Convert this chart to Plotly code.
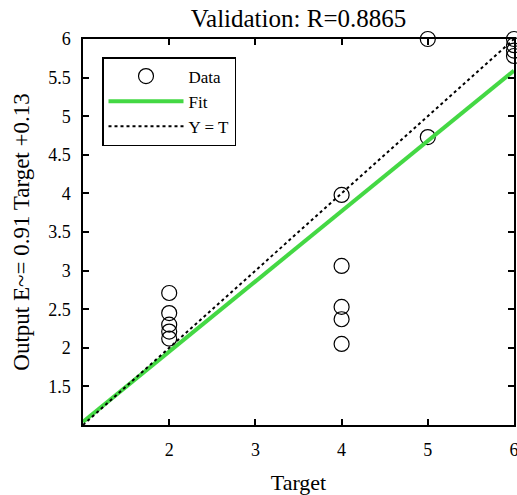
import plotly.graph_objects as go

# Data
target = [2, 2, 2, 2, 2, 4, 4, 4, 4, 4, 5, 5, 6, 6, 6, 6]
output = [2.71, 2.45, 2.30, 2.21, 2.12, 3.98, 3.06, 2.53, 2.37, 2.05, 6.0, 4.73, 6.0, 5.92, 5.85, 5.78]
fit_slope = 0.91
fit_intercept = 0.13
line_x = [1, 6]
fit_y = [fit_slope * v + fit_intercept for v in line_x]
yt_y = list(line_x)
x_ticks = [2, 3, 4, 5, 6]
y_ticks = [1.5, 2, 2.5, 3, 3.5, 4, 4.5, 5, 5.5, 6]

FONT = "Liberation Serif"

fig = go.Figure()
fig.add_trace(go.Scatter(
    x=target, y=output, mode="markers", name="Data",
    marker=dict(symbol="circle-open", size=15, color="black", line=dict(width=1.2, color="black")),
    cliponaxis=False,
))
fig.add_trace(go.Scatter(
    x=line_x, y=fit_y, mode="lines", name="Fit",
    line=dict(color="#44d844", width=4),
))
fig.add_trace(go.Scatter(
    x=line_x, y=yt_y, mode="lines", name="Y = T",
    line=dict(color="black", width=2, dash="dot"),
))

axis_common = dict(
    showgrid=False, zeroline=False,
    showline=True, linecolor="black", linewidth=1.5, mirror="ticks",
    ticks="inside", ticklen=6, tickwidth=1.5, tickcolor="black",
    tickfont=dict(family=FONT, size=18, color="black"),
    ticklabeloverflow="allow",
)

fig.update_layout(
    width=517, height=495,
    margin=dict(l=83, r=3, t=39, b=70, autoexpand=False),
    paper_bgcolor="white", plot_bgcolor="white",
    title=dict(text="Validation: R=0.8865", x=0.5, xref="paper", y=1 - 18 / 495, yref="container",
               xanchor="center", yanchor="middle",
               font=dict(family=FONT, size=25, color="black")),
    xaxis=dict(range=[1, 6], tickvals=x_ticks, ticktext=[str(v) for v in x_ticks],
               ticklabelstandoff=8,
               title=dict(text="Target", font=dict(family=FONT, size=22, color="black"), standoff=18),
               **axis_common),
    yaxis=dict(range=[1, 6], tickvals=y_ticks, ticktext=[("%g" % v) for v in y_ticks],
               ticklabelstandoff=7,
               title=dict(text="Output E~= 0.91 Target +0.13", font=dict(family=FONT, size=23, color="black"), standoff=12),
               **axis_common),
    showlegend=True,
    legend=dict(x=(102 - 83) / 431, y=(425 - 57) / 386, xanchor="left", yanchor="top",
                bgcolor="white", bordercolor="black", borderwidth=1.5,
                font=dict(family=FONT, size=17, color="black"),
                itemwidth=75, tracegroupgap=0),
)

fig.write_html("out.html", config={"displayModeBar": False},
               post_script="document.body.style.margin='0';document.body.style.overflow='hidden';")
